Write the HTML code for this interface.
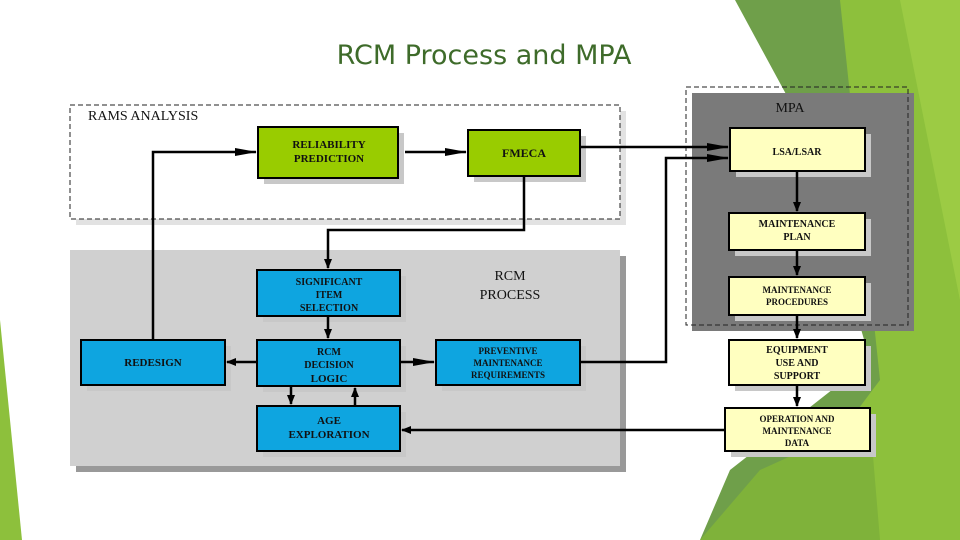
<!DOCTYPE html>
<html><head><meta charset="utf-8"><style>
html,body{margin:0;padding:0;background:#fff;}
svg{display:block}
.t{font-family:"Liberation Serif",serif;font-weight:bold;fill:#111;text-anchor:middle}
.n{font-weight:normal}
</style></head><body>
<svg width="960" height="540" viewBox="0 0 960 540" xmlns="http://www.w3.org/2000/svg">
<defs>
<marker id="a" markerWidth="10" markerHeight="8" refX="9" refY="4" orient="auto" markerUnits="userSpaceOnUse"><path d="M0,0 L10,4 L0,8 Z" fill="#000"/></marker>
<marker id="b" markerWidth="22" markerHeight="10" refX="21" refY="5" orient="auto" markerUnits="userSpaceOnUse"><path d="M0,1 L22,5 L0,9 Z" fill="#000"/></marker>
</defs>
<!-- background greens -->
<polygon points="735,0 960,0 960,540 700,540 730,470 870,360 800,120" fill="#6f9f4a"/>
<polygon points="840,0 960,0 960,540 760,540 880,380" fill="#8dc03c"/>
<polygon points="900,0 960,0 960,300" fill="#9ccb44"/>
<polygon points="700,540 760,470 870,420 880,540" fill="#7fb23a"/>
<polygon points="0,320 22,540 0,540" fill="#8dc03c"/>
<text x="484" y="64" font-family="DejaVu Sans,Liberation Sans,sans-serif" font-size="27" fill="#3e6b2a" text-anchor="middle">RCM Process and MPA</text>

<!-- RAMS -->
<rect x="76" y="111" width="550" height="114" fill="#e2e2e2"/>
<rect x="70" y="105" width="550" height="114" fill="#fff" stroke="#222" stroke-dasharray="5,3"/>
<text x="88" y="120" font-family="Liberation Serif,serif" font-size="14" fill="#111">RAMS  ANALYSIS</text>
<!-- RCM panel -->
<rect x="76" y="256" width="550" height="216" fill="#999"/>
<rect x="70" y="250" width="550" height="216" fill="#d0d0d0"/>
<text class="t n" x="510" y="280" font-size="14">RCM</text>
<text class="t n" x="510" y="299" font-size="14">PROCESS</text>
<!-- MPA -->
<rect x="692" y="93" width="222" height="238" fill="#7a7a7a"/>
<rect x="686" y="87" width="222" height="238" fill="none" stroke="#222" stroke-dasharray="5,3"/>
<text x="790" y="112" font-family="Liberation Serif,serif" font-size="14" fill="#111" text-anchor="middle">MPA</text>

<g stroke="#000" stroke-width="2">
<g fill="#c8c8c8" stroke="none">
<rect x="264" y="133" width="140" height="51"/><rect x="474" y="136" width="112" height="46"/>
<rect x="263" y="276" width="143" height="46"/><rect x="263" y="346" width="143" height="46"/><rect x="263" y="412" width="143" height="45"/>
<rect x="87" y="346" width="144" height="45"/><rect x="442" y="346" width="144" height="45"/>
<rect x="736" y="134" width="135" height="43"/><rect x="735" y="219" width="136" height="37"/><rect x="735" y="283" width="136" height="38"/>
<rect x="735" y="346" width="136" height="45"/><rect x="731" y="414" width="145" height="43"/>
</g>
<rect x="258" y="127" width="140" height="51" fill="#99cc00"/>
<rect x="468" y="130" width="112" height="46" fill="#99cc00"/>
<g fill="#0ea5e0">
<rect x="257" y="270" width="143" height="46"/><rect x="257" y="340" width="143" height="46"/><rect x="257" y="406" width="143" height="45"/>
<rect x="81" y="340" width="144" height="45"/><rect x="436" y="340" width="144" height="45"/>
</g>
<g fill="#ffffc0">
<rect x="730" y="128" width="135" height="43"/><rect x="729" y="213" width="136" height="37"/><rect x="729" y="277" width="136" height="38"/>
<rect x="729" y="340" width="136" height="45"/><rect x="725" y="408" width="145" height="43"/>
</g>
<g fill="none" stroke-width="2.5">
<polyline points="153,340 153,152 256,152" marker-end="url(#b)"/>
<line x1="405" y1="152" x2="466" y2="152" marker-end="url(#b)"/>
<line x1="580" y1="147" x2="728" y2="147" marker-end="url(#b)"/>
<polyline points="580,362 666,362 666,158 728,158" marker-end="url(#b)"/>
<polyline points="524,176 524,230 328,230 328,268" marker-end="url(#a)"/>
<line x1="328" y1="316" x2="328" y2="338" marker-end="url(#a)"/>
<line x1="257" y1="362" x2="227" y2="362" marker-end="url(#a)"/>
<line x1="400" y1="362" x2="434" y2="362" marker-end="url(#b)"/>
<line x1="291" y1="386" x2="291" y2="404" marker-end="url(#a)"/>
<line x1="355" y1="406" x2="355" y2="388" marker-end="url(#a)"/>
<line x1="725" y1="430" x2="402" y2="430" marker-end="url(#a)"/>
<line x1="797" y1="171" x2="797" y2="211" marker-end="url(#a)"/>
<line x1="797" y1="250" x2="797" y2="275" marker-end="url(#a)"/>
<line x1="797" y1="315" x2="797" y2="338" marker-end="url(#a)"/>
<line x1="797" y1="385" x2="797" y2="406" marker-end="url(#a)"/>
</g>
</g>
<g font-size="11">
<text class="t" x="329" y="148" font-size="11">RELIABILITY</text><text class="t" x="329" y="162" font-size="11">PREDICTION</text>
<text class="t" x="524" y="157" font-size="12">FMECA</text>
<text class="t" x="329" y="285" font-size="10">SIGNIFICANT</text><text class="t" x="329" y="298" font-size="10">ITEM</text><text class="t" x="329" y="311" font-size="10">SELECTION</text>
<text class="t" x="329" y="355" font-size="10">RCM</text><text class="t" x="329" y="368" font-size="10">DECISION</text><text class="t" x="329" y="382" font-size="11">LOGIC</text>
<text class="t" x="329" y="424" font-size="11">AGE</text><text class="t" x="329" y="438" font-size="11">EXPLORATION</text>
<text class="t" x="153" y="366" font-size="11">REDESIGN</text>
<text class="t" x="508" y="354" font-size="9">PREVENTIVE</text><text class="t" x="508" y="366" font-size="9">MAINTENANCE</text><text class="t" x="508" y="378" font-size="9">REQUIREMENTS</text>
<text class="t" x="797" y="155" font-size="10">LSA/LSAR</text>
<text class="t" x="797" y="227" font-size="10">MAINTENANCE</text><text class="t" x="797" y="240" font-size="10">PLAN</text>
<text class="t" x="797" y="293" font-size="9">MAINTENANCE</text><text class="t" x="797" y="305" font-size="9">PROCEDURES</text>
<text class="t" x="797" y="353" font-size="10">EQUIPMENT</text><text class="t" x="797" y="366" font-size="10">USE AND</text><text class="t" x="797" y="379" font-size="10">SUPPORT</text>
<text class="t" x="797" y="422" font-size="9">OPERATION AND</text><text class="t" x="797" y="434" font-size="9">MAINTENANCE</text><text class="t" x="797" y="446" font-size="9">DATA</text>
</g>
</svg>
</body></html>
